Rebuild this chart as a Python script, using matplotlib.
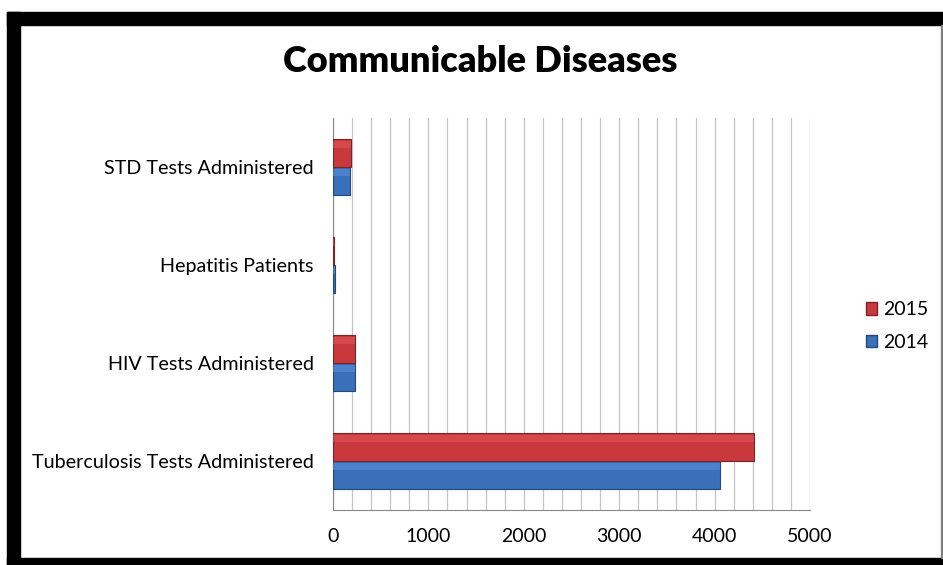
import matplotlib
matplotlib.use("Agg")
import matplotlib.pyplot as plt
import matplotlib.patches as mpatches
import numpy as np

categories = ["Tuberculosis Tests Administered", "HIV Tests Administered",
              "Hepatitis Patients", "STD Tests Administered"]
values_2014 = [4060, 230, 25, 180]
values_2015 = [4410, 235, 15, 190]
series_names = ["2014", "2015"]
xticks = [0, 1000, 2000, 3000, 4000, 5000]

plt.rcParams['font.family'] = ['Lato', 'DejaVu Sans']

fig = plt.figure(figsize=(9.43, 5.65), dpi=100)
fig.patch.set_facecolor("white")

# frame
W, H = 943, 565
def frect(x0, y0, x1, y1, color):
    fig.patches.append(mpatches.Rectangle((x0 / W, 1 - y1 / H), (x1 - x0) / W, (y1 - y0) / H,
                                          transform=fig.transFigure, color=color, zorder=-10))
frect(7, 12, 943, 25, "black")
frect(7, 12, 20, 565, "black")
frect(7, 558, 943, 565, "black")
frect(941, 25, 943, 558, "#808080")

ax = fig.add_axes([333 / W, 1 - 510 / H, (810 - 333) / W, (510 - 118) / H])
y = np.arange(len(categories))
h = 0.285
blue = "#3A70BA"
red = "#C8383C"
ax.barh(y - h / 2, values_2014, height=h, color=blue, edgecolor="#24487a", linewidth=0.8, zorder=3)
ax.barh(y + h / 2, values_2015, height=h, color=red, edgecolor="#7e2224", linewidth=0.8, zorder=3)
# highlight strips for a little 3D feel
ax.barh(y - h / 2 + h * 0.3, values_2014, height=h * 0.25, color="#5f95dc", linewidth=0, zorder=4, alpha=0.5)
ax.barh(y + h / 2 + h * 0.3, values_2015, height=h * 0.25, color="#e05a5e", linewidth=0, zorder=4, alpha=0.5)

ax.set_xlim(0, 5000)
ax.set_ylim(-0.5, len(categories) - 0.5)
ax.set_xticks(xticks)
ax.set_xticks(np.arange(0, 5001, 200), minor=True)
ax.grid(axis="x", which="both", color="#c4c4c4", linewidth=0.9, zorder=0)
ax.set_yticks(y)
ax.set_yticklabels(categories, fontsize=14.2)
ax.tick_params(axis="x", which="both", length=0, pad=13, labelsize=14)
ax.tick_params(axis="y", length=0, pad=14)
for s in ["top", "right"]:
    ax.spines[s].set_visible(False)
ax.spines["left"].set_color("#888888")
ax.spines["bottom"].set_color("#888888")

fig.text(480 / W, 1 - 62 / H, "Communicable Diseases", ha="center", va="center",
         fontsize=26, fontweight="heavy")

handles = [mpatches.Patch(facecolor=red, edgecolor="#7e2224", label="2015"),
           mpatches.Patch(facecolor=blue, edgecolor="#24487a", label="2014")]
fig.legend(handles=handles, loc="center left", bbox_to_anchor=(848 / W, 1 - 326 / H),
           frameon=False, fontsize=14, handlelength=0.6, handleheight=0.6,
           handletextpad=0.3, labelspacing=0.8)

fig.savefig("out.png", dpi=100, facecolor="white")
